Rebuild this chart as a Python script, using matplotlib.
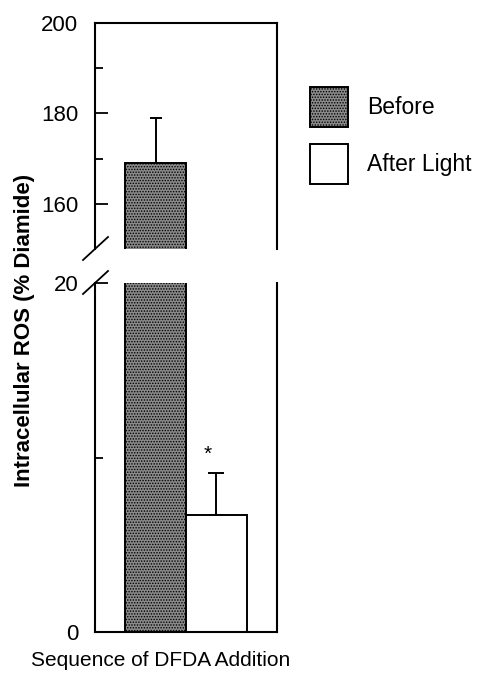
import numpy as np
import matplotlib
matplotlib.use("Agg")
import matplotlib.pyplot as plt
from matplotlib.patches import Patch

plt.rcParams['font.family'] = ['Liberation Sans', 'DejaVu Sans']
plt.rcParams['hatch.linewidth'] = 0.7
plt.rcParams['hatch.color'] = 'black'

# data
groups = ["Before", "After Light"]
values = [169.0, 6.7]
errors = [10.0, 2.4]
positions = [1.0, 2.0]
fills = ['#8a8a8a', 'white']
hatches = ['......', None]
capsizes = [4.5, 6.0]

W, H = 478, 679
fig = plt.figure(figsize=(W / 100, H / 100), dpi=100)

left, right = 95 / W, 277 / W
ax_top = fig.add_axes([left, 1 - 249 / H, right - left, (249 - 23) / H])
ax_bot = fig.add_axes([left, 1 - 632 / H, right - left, (632 - 283) / H])

for ax in (ax_top, ax_bot):
    for i in range(len(groups)):
        ax.bar(positions[i], values[i], width=1.0, color=fills[i], hatch=hatches[i],
               edgecolor='black', linewidth=1.4, zorder=2)
        ax.errorbar(positions[i], values[i], yerr=[[0], [errors[i]]], fmt='none',
                    ecolor='black', elinewidth=1.4, capsize=capsizes[i], capthick=1.4, zorder=1)
    ax.set_xlim(0, 3)
    ax.set_xticks([])
    for s in ax.spines.values():
        s.set_linewidth(1.5)
    ax.tick_params(axis='y', which='major', direction='in', length=9.5, width=1.3,
                   labelsize=16, pad=12)
    ax.tick_params(axis='y', which='minor', direction='in', length=6, width=1.3)

ax_top.set_ylim(150, 200)
ax_top.set_yticks([160, 180, 200])
ax_top.set_yticks([170, 190], minor=True)
ax_top.spines['bottom'].set_visible(False)

ax_bot.set_ylim(0, 20)
ax_bot.set_yticks([0, 20])
ax_bot.set_yticks([10], minor=True)
ax_bot.spines['top'].set_visible(False)

# significance marker
ax_bot.text(positions[1] - 0.15, values[1] + errors[1] + 1.1, '*', ha='center', va='center',
            fontsize=15)

# break marks on the left spine
for ax, yfrac in ((ax_top, 0.0), (ax_bot, 1.0)):
    pos = ax.get_position()
    cx, cy = pos.x0, pos.y0 + yfrac * pos.height
    fig.add_artist(plt.Line2D([cx - 12 / W, cx + 13 / W], [cy - 11 / H, cy + 12 / H],
                              color='black', linewidth=1.3))

# legend
handles = [Patch(facecolor=fills[i], hatch=hatches[i], edgecolor='black', linewidth=1.4)
           for i in range(len(groups))]
fig.legend(handles, groups, loc='upper left', bbox_to_anchor=(310 / W, 1 - 87 / H),
           frameon=False, fontsize=16.5, handlelength=1.65, handleheight=2.3,
           labelspacing=0.75, handletextpad=0.85, borderpad=0, borderaxespad=0)

fig.text(25 / W, 1 - 330 / H, "Intracellular ROS (% Diamide)", rotation=90,
         ha='center', va='center', fontsize=16, fontweight='bold')
fig.text(161 / W, 1 - 661 / H, "Sequence of DFDA Addition", ha='center', va='center',
         fontsize=15)

fig.savefig("out.png", dpi=100)
